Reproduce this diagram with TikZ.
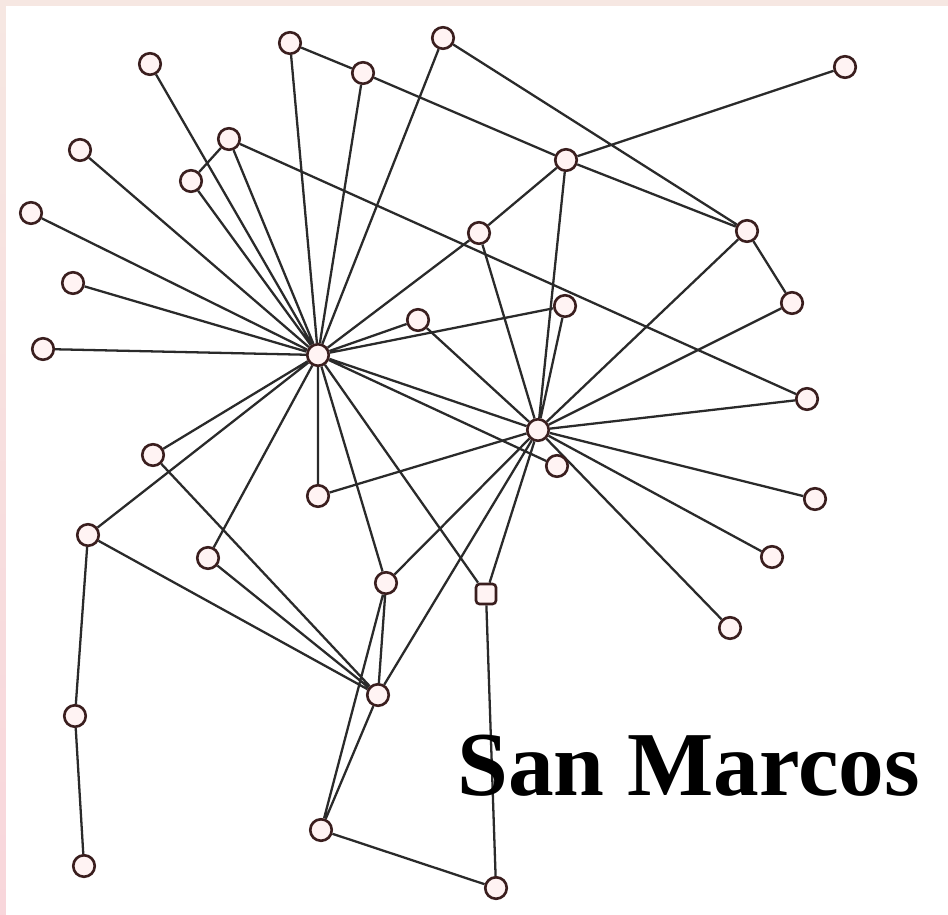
\documentclass[tikz,border=0pt]{standalone}
\usepackage{fontspec}
\newfontfamily\netfont{Liberation Serif}
\usepackage{xcolor}
\definecolor{netedge}{HTML}{2A2A2A}
\definecolor{netrim}{HTML}{3A1E1E}
\definecolor{netfill}{HTML}{FFF3F3}
\definecolor{netframe}{HTML}{F6E7E2}
\definecolor{netframelow}{HTML}{F8D6DB}
\usepackage{tikz}
\pgfdeclarelayer{frame}
\pgfdeclarelayer{edges}
\pgfsetlayers{frame,edges,main}
\tikzset{
  netnode/.style={circle,draw=netrim,line width=1.5pt,fill=netfill,minimum size=4.3mm,inner sep=0pt},
  netsquare/.style={rectangle,rounded corners=2pt,draw=netrim,line width=1.5pt,fill=netfill,minimum size=4mm,inner sep=0pt},
  nettie/.style={draw=netedge,line width=1.3pt},
  netlabel/.style={font=\netfont\bfseries\fontsize{52}{60}\selectfont,anchor=base west,inner sep=0pt},
}
\begin{document}
\begin{tikzpicture}[x=0.2mm,y=-0.2mm]
\useasboundingbox (0,0) rectangle (948,915);
\begin{pgfonlayer}{frame}
\fill[netframe](0,0) rectangle (948,915);
\shade[top color=netframe,bottom color=netframelow](0,6) rectangle (6,915);
\fill[white](6,6) rectangle (948,915);
\end{pgfonlayer}
 % two hubs
\node[netnode] (hubA) at (318,355){};
\node[netnode] (hubB) at (538,430){};
 % upper left fan
\node[netnode] (t1) at (150,64){};
\node[netnode] (t2) at (290,43){};
\node[netnode] (t3) at (363,73){};
\node[netnode] (t4) at (443,38){};
\node[netnode] (t5) at (845,67){};
\node[netnode] (t6) at (80,150){};
\node[netnode] (t7) at (229,139){};
\node[netnode] (t8) at (191,181){};
\node[netnode] (t9) at (31,213){};
\node[netnode] (t10) at (73,283){};
\node[netnode] (t11) at (43,349){};
 % middle
\node[netnode] (m12) at (566,160){};
\node[netnode] (m13) at (479,233){};
\node[netnode] (m16) at (565,306){};
\node[netnode] (m17) at (418,320){};
\node[netnode] (m19) at (557,466){};
\node[netnode] (m21) at (318,496){};
\node[netnode] (m25) at (386,583){};
\node[netsquare] (m27) at (486,594){};
\node[netnode] (m29) at (378,695){};
\node[netnode] (m31) at (321,830){};
\node[netnode] (m33) at (496,888){};
 % right side
\node[netnode] (r14) at (747,231){};
\node[netnode] (r15) at (792,303){};
\node[netnode] (r18) at (807,399){};
\node[netnode] (r22) at (815,499){};
\node[netnode] (r26) at (772,557){};
\node[netnode] (r28) at (730,628){};
 % left side
\node[netnode] (l20) at (153,455){};
\node[netnode] (l23) at (88,535){};
\node[netnode] (l24) at (208,558){};
\node[netnode] (l30) at (75,716){};
\node[netnode] (l32) at (84,866){};
\begin{pgfonlayer}{edges}
\draw[nettie](hubA)--(t1) (hubA)--(t2) (hubA)--(t3) (hubA)--(t4) (hubA)--(t6) (hubA)--(t7) (hubA)--(t8)
  (hubA)--(t9) (hubA)--(t10) (hubA)--(t11) (hubA)--(m13) (hubA)--(m16) (hubA)--(m17) (hubA)--(hubB)
  (hubA)--(m19) (hubA)--(l20) (hubA)--(m21) (hubA)--(l23) (hubA)--(l24) (hubA)--(m25) (hubA)--(m27);
\draw[nettie](hubB)--(m12) (hubB)--(m13) (hubB)--(r14) (hubB)--(r15) (hubB)--(m16) (hubB)--(m17)
  (hubB)--(r18) (hubB)--(r22) (hubB)--(r26) (hubB)--(r28) (hubB)--(m21) (hubB)--(m25) (hubB)--(m27) (hubB)--(m29);
\draw[nettie](t2)--(t3) (t3)--(m12) (t4)--(r14) (m12)--(t5) (m12)--(r14) (m12)--(m13) (t7)--(t8)
  (t7)--(r18) (r14)--(r15);
\draw[nettie](l20)--(m29) (l23)--(m29) (l24)--(m29) (l23)--(l30) (l30)--(l32) (m25)--(m29)
  (m25)--(m31) (m29)--(m31) (m27)--(m33) (m31)--(m33);
\end{pgfonlayer}
\node[netlabel] (title) at (457,795){San Marcos};
\end{tikzpicture}
\end{document}
